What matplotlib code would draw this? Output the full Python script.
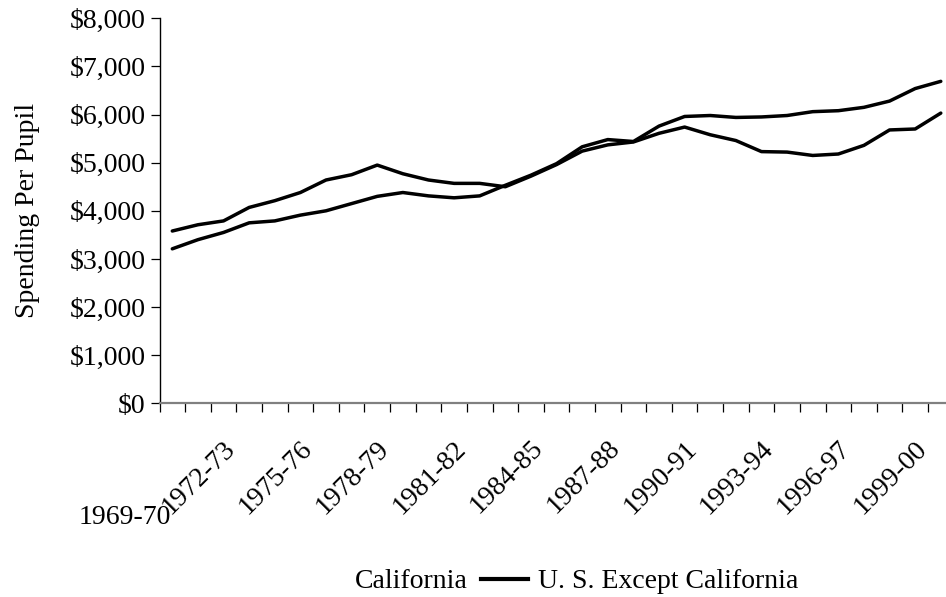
import matplotlib
matplotlib.use("Agg")
import matplotlib.pyplot as plt
from matplotlib.lines import Line2D
from matplotlib.ticker import FuncFormatter
import numpy as np

plt.rcParams['font.family'] = ['Liberation Serif', 'DejaVu Serif']

years = ["1969-70", "1970-71", "1971-72", "1972-73", "1973-74", "1974-75",
         "1975-76", "1976-77", "1977-78", "1978-79", "1979-80", "1980-81",
         "1981-82", "1982-83", "1983-84", "1984-85", "1985-86", "1986-87",
         "1987-88", "1988-89", "1989-90", "1990-91", "1991-92", "1992-93",
         "1993-94", "1994-95", "1995-96", "1996-97", "1997-98", "1998-99",
         "1999-00"]

california = [3580, 3710, 3790, 4070, 4210, 4380, 4640, 4750, 4950, 4770,
              4640, 4570, 4570, 4500, 4720, 4960, 5240, 5370, 5430, 5610,
              5740, 5580, 5460, 5230, 5220, 5150, 5180, 5360, 5680, 5700,
              6030]

us_except_ca = [3210, 3400, 3550, 3750, 3790, 3910, 4000, 4150, 4300, 4380,
                4310, 4270, 4310, 4530, 4740, 4980, 5330, 5480, 5440, 5760,
                5960, 5980, 5940, 5950, 5980, 6060, 6080, 6150, 6280, 6540,
                6690]

y_ticks = [0, 1000, 2000, 3000, 4000, 5000, 6000, 7000, 8000]
label_every = 3

W, H = 946, 597
fig = plt.figure(figsize=(W / 100, H / 100), dpi=100)
ax_left, ax_right, ax_top, ax_bottom = 159.5, 953.6, 18.3, 403.3
ax = fig.add_axes([ax_left / W, 1 - ax_bottom / H,
                   (ax_right - ax_left) / W, (ax_bottom - ax_top) / H])

x = np.arange(len(years))
ax.plot(x, california, color='black', lw=2.5, solid_joinstyle='round',
        solid_capstyle='round', label='California')
ax.plot(x, us_except_ca, color='black', lw=2.5, solid_joinstyle='round',
        solid_capstyle='round', label='U. S. Except California')

ax.set_xlim(-0.5, len(years) - 0.5)
ax.set_ylim(y_ticks[0], y_ticks[-1])
ax.set_yticks(y_ticks)
ax.yaxis.set_major_formatter(FuncFormatter(lambda v, p: f"${int(v):,}"))
ax.set_xticks(np.arange(-0.5, len(years), 1.0))
ax.set_xticklabels([])

for s in ['top', 'right']:
    ax.spines[s].set_visible(False)
ax.spines['left'].set_color('black')
ax.spines['left'].set_linewidth(1.0)
ax.spines['bottom'].set_color('#808080')
ax.spines['bottom'].set_linewidth(1.6)

ax.tick_params(axis='y', direction='out', length=6.5, width=0.9, pad=3.6,
               labelsize=20, color='black')
ax.tick_params(axis='x', direction='out', length=6.5, width=0.9, color='black')

ax.set_ylabel("Spending Per Pupil", fontsize=20)
ax.yaxis.label.set_va('center')
ax.yaxis.set_label_coords((28 - ax_left) / (ax_right - ax_left), 0.5)

# category labels
for k, lab in enumerate(years):
    if k == 0:
        ax.annotate(lab, xy=(k, 0), xycoords=('data', 'axes fraction'),
                    xytext=(-1, -114), textcoords='offset pixels',
                    ha='right', va='center', fontsize=20)
    elif k % label_every == 0:
        ax.annotate(lab, xy=(k, 0), xycoords=('data', 'axes fraction'),
                    xytext=(-50, -74), textcoords='offset pixels',
                    ha='center', va='center', rotation=45, fontsize=20)

handles = [Line2D([], [], color='none', lw=3),
           Line2D([], [], color='black', lw=3)]
fig.legend(handles, ['California', 'U. S. Except California'],
           loc='center left', bbox_to_anchor=(298 / W, 1 - 581.7 / H),
           ncol=2, frameon=False, fontsize=20, handlelength=1.69,
           handletextpad=0.36, columnspacing=0.47, borderpad=0,
           borderaxespad=0)

fig.savefig("out.png", dpi=100)
